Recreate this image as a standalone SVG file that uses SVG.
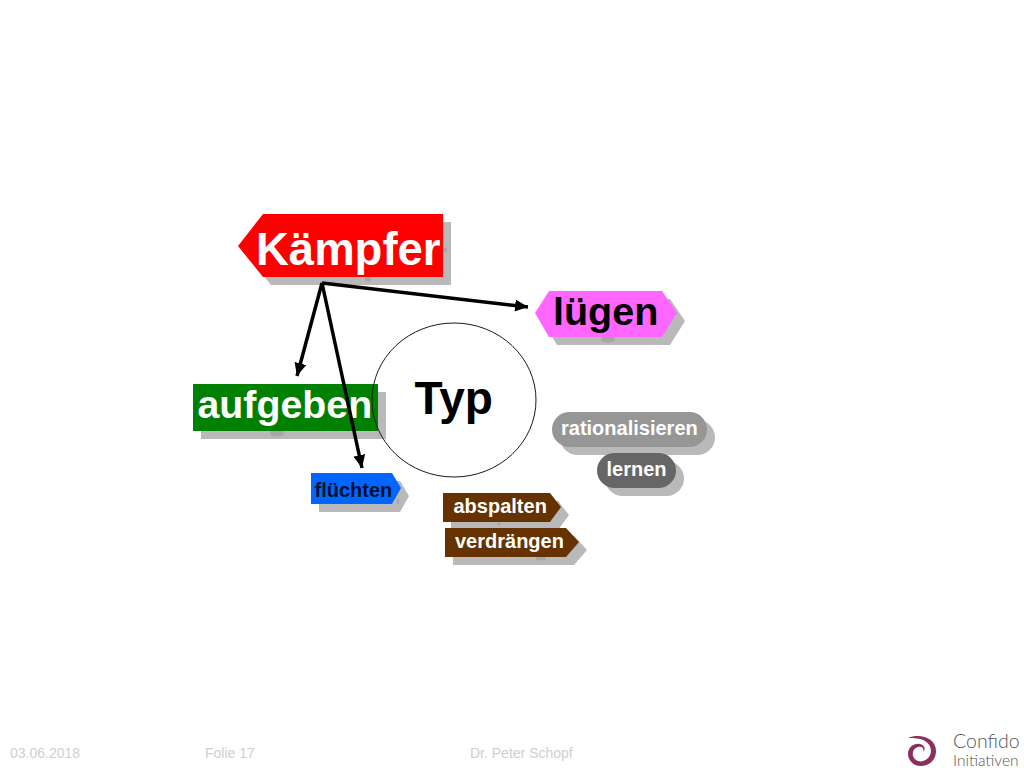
<svg xmlns="http://www.w3.org/2000/svg" width="1024" height="768" viewBox="0 0 1024 768">
<style>
.s{fill:#b9b9b9}
.d{fill:#a6a6a6}
.t{font-family:"Liberation Sans",Arial,sans-serif;font-weight:700}
.w{fill:#fff}
.k{fill:#000}
.f{font-family:"Liberation Sans",Arial,sans-serif;font-size:14px;fill:#cfcfcf}
.c{fill:none;stroke:#000;stroke-width:3.5}
</style>
<defs>
<marker id="a" markerUnits="userSpaceOnUse" markerWidth="13" markerHeight="12" refX="13" refY="6" orient="auto"><path d="M0 0L13 6L0 12Z" fill="#000"/></marker>
</defs>
<rect width="1024" height="768" fill="#fff"/>
<g id="kaempfer">
<path class="s" d="M246 254L271 222H451V285H271Z"/>
<ellipse class="d" cx="368" cy="279" rx="3" ry="2.5"/>
<ellipse class="d" cx="445" cy="250" rx="2" ry="2.5"/>
<path fill="#fe0000" d="M238 246L263 214H443V277H263Z"/>
<text class="t w" x="256" y="264.500" font-size="45.500">Kämpfer</text>
</g>
<g id="luegen">
<path class="s" d="M543 321L557 299H670L685 321L670 345H557Z"/>
<ellipse class="d" cx="608" cy="339" rx="7" ry="3.5"/>
<path fill="#ff66ff" d="M535 313L549 291H662L677 313L662 337H549Z"/>
<text class="t k" x="553" y="325" font-size="39.5">lügen</text>
</g>
<g id="aufgeben">
<rect class="s" x="201" y="392" width="185" height="47"/>
<ellipse class="d" cx="277" cy="433" rx="7" ry="3.5"/>
<rect x="193" y="384" width="185" height="47" fill="#008000"/>
<text class="t w" x="197.5" y="418" font-size="39.3">aufgeben</text>
</g>
<g id="fluechten">
<path class="s" d="M319 481H400L409 496L400 512H319Z"/>
<rect class="d" x="397" y="499" width="2" height="5"/>
<path fill="#0066ff" d="M311 473H392L401 488L392 504H311Z"/>
<text class="t" x="314.5" y="497" font-size="20" fill="#00102e">flüchten</text>
</g>
<g id="rationalisieren">
<rect class="s" x="560" y="420" width="155" height="35" rx="17.5"/>
<rect x="552" y="412" width="155" height="35" rx="17.5" fill="#969696"/>
<text class="t w" x="561" y="435" font-size="20">rationalisieren</text>
</g>
<g id="lernen">
<rect class="s" x="605" y="461" width="79" height="35" rx="17.5"/>
<rect x="597" y="453" width="79" height="35" rx="17.5" fill="#666"/>
<text class="t w" x="606.5" y="476" font-size="20">lernen</text>
</g>
<g id="abspalten">
<path class="s" d="M451 501H558L569 515L558 530H451Z"/>
<ellipse class="d" cx="499" cy="523.5" rx="1.5" ry="1.5"/>
<path fill="#663300" d="M443 493H550L561 507L550 522H443Z"/>
<text class="t w" x="453.5" y="513" font-size="20">abspalten</text>
</g>
<g id="verdraengen">
<path class="s" d="M453 536H574L587 550L574 565H453Z"/>
<ellipse class="d" cx="541" cy="558" rx="5" ry="2.5"/>
<path fill="#663300" d="M445 528H566L579 542L566 557H445Z"/>
<text class="t w" x="455" y="548" font-size="20">verdrängen</text>
</g>
<g id="typ">
<ellipse cx="454" cy="400" rx="82" ry="77" fill="none" stroke="#1a1a1a" stroke-width="1"/>
<text class="t k" x="414.5" y="414" font-size="46">Typ</text>
</g>
<g id="connectors">
<path class="c" d="M322 283L297 376" marker-end="url(#a)"/>
<path class="c" d="M322 283L362 468" marker-end="url(#a)"/>
<path class="c" d="M322 283L528 307" marker-end="url(#a)"/>
</g>
<g id="footer">
<text class="f" x="10" y="758">03.06.2018</text>
<text class="f" x="205" y="758">Folie 17</text>
<text class="f" x="470" y="758">Dr. Peter Schopf</text>
</g>
<g id="logo">
<path fill="#8c2f60" d="M908 738C920 733 936 738 936 751C936 761 928 766 921 766C913 766 908 760 908 754C908 747 914 743 920 744C925 745 926 750 923 752C925 748 921 746 918 747C914 748 912 752 913 756C915 762 922 763 927 759C933 754 932 745 925 741C920 738 914 738 908 738Z"/>
<text x="953" y="748" font-family="Lato,'Open Sans',sans-serif" font-weight="300" font-size="19.500" fill="#555">Confido</text>
<text x="953" y="766" font-family="Lato,'Open Sans',sans-serif" font-weight="300" font-size="15.500" fill="#555">Initiativen</text>
</g>
</svg>
